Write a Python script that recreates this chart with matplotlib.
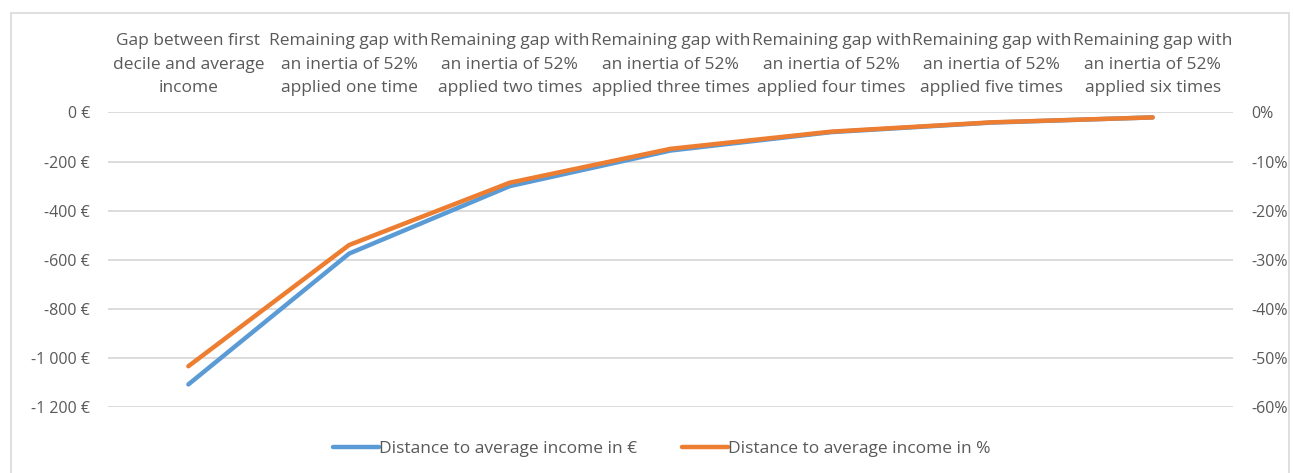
import matplotlib.pyplot as plt
from matplotlib.ticker import FuncFormatter
from matplotlib.patches import Rectangle

# data
categories = [
    "Gap between first\ndecile and average\nincome",
    "Remaining gap with\nan inertia of 52%\napplied one time",
    "Remaining gap with\nan inertia of 52%\napplied two times",
    "Remaining gap with\nan inertia of 52%\napplied three times",
    "Remaining gap with\nan inertia of 52%\napplied four times",
    "Remaining gap with\nan inertia of 52%\napplied five times",
    "Remaining gap with\nan inertia of 52%\napplied six times",
]
gap_euro = [-1108, -575, -300, -155, -80, -41, -20]
gap_pct = [-51.7, -27.0, -14.3, -7.4, -3.9, -2.0, -1.0]

euro_ticks = [0, -200, -400, -600, -800, -1000, -1200]
pct_ticks = [0, -10, -20, -30, -40, -50, -60]

BLUE = '#5B9BD5'
ORANGE = '#ED7D31'
GRID = '#D9D9D9'
TEXT = '#595959'

plt.rcParams['font.family'] = ['Open Sans', 'DejaVu Sans']
FS = 12.5
TICK_FS = 11.5

fig = plt.figure(figsize=(12.93, 4.73), dpi=100)
fig.patches.append(Rectangle((11 / 1293, -0.01), 1278 / 1293, 1 - 13 / 473 + 0.01,
                             transform=fig.transFigure, fill=False,
                             edgecolor='#D9D9D9', linewidth=1.2))

ax = fig.add_axes([108 / 1293, 1 - 407 / 473, 1125 / 1293, (407 - 112.5) / 473])
x = list(range(len(categories)))

ax.set_xlim(-0.5, len(categories) - 0.5)
ax.set_ylim(-1200, 0)
ax.set_yticks(euro_ticks)

def euro_fmt(v, pos):
    s = f"{int(v):,}".replace(",", " ")
    return f"{s} €"

ax.yaxis.set_major_formatter(FuncFormatter(euro_fmt))
ax.grid(axis='y', color=GRID, linewidth=1.3)
ax.set_axisbelow(True)
for sp in ax.spines.values():
    sp.set_visible(False)
ax.tick_params(axis='y', length=0, pad=13, labelsize=TICK_FS, labelcolor=TEXT)

ax.xaxis.tick_top()
ax.set_xticks(x)
ax.set_xticklabels(categories, fontsize=FS, color=TEXT, linespacing=1.6)
ax.tick_params(axis='x', length=0, pad=12)

l1, = ax.plot(x, gap_euro, color=BLUE, linewidth=3.2, solid_capstyle='round',
              label='Distance to average income in €')

ax2 = ax.twinx()
ax2.set_ylim(-60, 0)
ax2.set_yticks(pct_ticks)
ax2.yaxis.set_major_formatter(FuncFormatter(lambda v, p: f"{int(v)}%"))
for sp in ax2.spines.values():
    sp.set_visible(False)
ax2.tick_params(axis='y', length=0, pad=13, labelsize=TICK_FS, labelcolor=TEXT)
l2, = ax2.plot(x, gap_pct, color=ORANGE, linewidth=3.2, solid_capstyle='round',
               label='Distance to average income in %')

fig.legend(handles=[l1, l2], loc='center', bbox_to_anchor=(662 / 1293, 1 - 449 / 473),
           ncol=2, frameon=False, fontsize=FS, labelcolor=TEXT,
           handlelength=2.65, handletextpad=0.0, columnspacing=2.6)

fig.savefig('out.png', dpi=100)
